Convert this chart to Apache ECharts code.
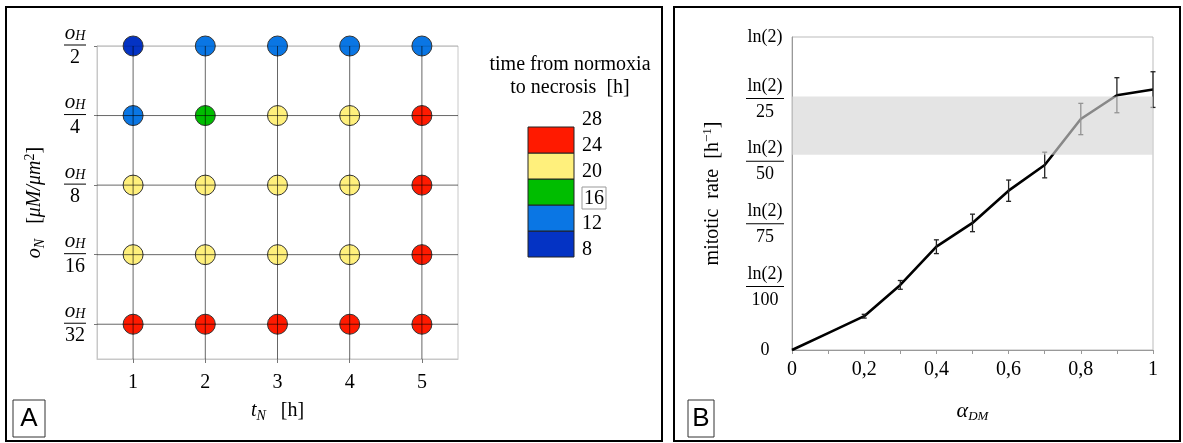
<!DOCTYPE html>
<html>
<head>
<meta charset="utf-8">
<script src="https://cdn.jsdelivr.net/npm/echarts@6/dist/echarts.min.js"></script>
<style>
html, body { margin: 0; padding: 0; background: #fff; }
#chart { width: 1183px; height: 443px; }
</style>
</head>
<body>
<div id="chart"></div>
<script>
// ---- panel A : time from normoxia to necrosis ----
const tValues = [1, 2, 3, 4, 5];             // t_N [h]
const oLevels = [1, 2, 3, 4, 5];             // row positions, bottom to top
const oDenominators = ['32', '16', '8', '4', '2'];
// rows from o_H/32 (bottom) to o_H/2 (top), columns t_N = 1..5
const necrosisRows = [
	[26, 26, 26, 26, 26],
	[22, 22, 22, 22, 26],
	[22, 22, 22, 22, 26],
	[14, 18, 22, 22, 26],
	[10, 14, 14, 14, 14]
];
const legendBreaks = [8, 12, 16, 20, 24, 28];
const legendColors = ['#0433c4', '#0a76e4', '#00bd00', '#fff07c', '#ff1a00'];

// ---- panel B : mitotic rate ----
const alphaValues = [0, 0.1, 0.2, 0.3, 0.4, 0.5, 0.6, 0.7, 0.8, 0.9, 1];
const rateLevels = [0, 0.27, 0.54, 1.04, 1.65, 2.03, 2.545, 2.955, 3.69, 4.07, 4.16];
const rateErrors = [0, 0, 0.03, 0.07, 0.11, 0.14, 0.17, 0.205, 0.25, 0.28, 0.285];
const rateTickLabels = ['0', '100', '75', '50', '25', 'ln(2)'];
const alphaTickLabels = ['0', '0,2', '0,4', '0,6', '0,8', '1'];
const bandRange = [3.12, 4.05];

const serif = 'Liberation Serif';

function colorFor(v) {
	for (let i = 0; i < legendColors.length; i++) {
		if (v >= legendBreaks[i] && v < legendBreaks[i + 1]) return legendColors[i];
	}
	return '#000';
}

const chart = echarts.init(document.getElementById('chart'));

// scatter cells
const cells = [];
necrosisRows.forEach((row, r) => {
	row.forEach((v, c) => cells.push([tValues[c], oLevels[r], v]));
});

// grid lines of panel A, drawn above the circles
const gridSeries = [];
tValues.forEach(x => {
	gridSeries.push({
		type: 'line', xAxisIndex: 0, yAxisIndex: 0, z: 4, silent: true, symbol: 'none',
		lineStyle: { color: 'rgba(0,0,0,0.6)', width: 1 },
		data: [[x, 0.5], [x, 5]]
	});
});
oLevels.forEach(y => {
	gridSeries.push({
		type: 'line', xAxisIndex: 0, yAxisIndex: 0, z: 4, silent: true, symbol: 'none',
		lineStyle: { color: y === 5 ? 'rgba(0,0,0,0.22)' : 'rgba(0,0,0,0.6)', width: 1 },
		data: [[0.5, y], [5.5, y]]
	});
});

const fracRichA = {
	o: { fontFamily: serif, fontStyle: 'italic', fontSize: 21, lineHeight: 20, color: '#000', align: 'center' },
	h: { fontFamily: serif, fontStyle: 'italic', fontSize: 14, lineHeight: 20, color: '#000', verticalAlign: 'bottom', padding: [8, 0, 0, 0], align: 'center' },
	bar: { width: 22, height: 1, lineHeight: 4, backgroundColor: '#000', align: 'center' },
	d: { fontFamily: serif, fontSize: 20, lineHeight: 22, color: '#000', align: 'center' }
};

const fracRichB = {
	n: { fontFamily: serif, fontSize: 18, lineHeight: 20, color: '#000', align: 'center' },
	bar: { width: 38, height: 1, lineHeight: 5, backgroundColor: '#000', align: 'center' },
	d: { fontFamily: serif, fontSize: 18, lineHeight: 22, color: '#000', align: 'center' },
	t: { fontFamily: serif, fontSize: 18, color: '#000', align: 'center' }
};

const option = {
	animation: false,
	backgroundColor: '#fff',
	title: {
		text: 'time from normoxia\nto necrosis  [h]',
		left: 565, top: 48, textAlign: 'center',
		textStyle: { fontFamily: serif, fontSize: 20, fontWeight: 'normal', color: '#000', lineHeight: 23 }
	},
	grid: [
		{ left: 97, top: 46, width: 361, height: 313, show: true, borderColor: '#c8c8c8', borderWidth: 1 },
		{ left: 528, top: 127, width: 46, height: 130 },
		{ left: 792, top: 37, width: 361, height: 313, show: true, borderColor: '#bbb', borderWidth: 1 }
	],
	xAxis: [
		{
			gridIndex: 0, type: 'value', min: 0.5, max: 5.5,
			name: '{i|t}{s|N}   [h]', nameLocation: 'middle', nameGap: 40,
			nameTextStyle: {
				rich: {
					i: { fontFamily: serif, fontStyle: 'italic', fontSize: 20, color: '#000' },
					s: { fontFamily: serif, fontStyle: 'italic', fontSize: 14, color: '#000', padding: [10, 0, 0, 0] }
				},
				fontFamily: serif, fontSize: 20, color: '#000'
			},
			axisLine: { lineStyle: { color: '#c8c8c8' } },
			axisTick: { show: true, customValues: tValues, length: 4, lineStyle: { color: '#777' } },
			axisLabel: { customValues: tValues, margin: 14, fontFamily: serif, fontSize: 20, color: '#000' },
			splitLine: { show: false }
		},
		{ gridIndex: 1, type: 'category', data: ['bar'], show: false },
		{
			gridIndex: 2, type: 'value', min: 0, max: 1, interval: 0.2,
			name: '{i|α}{s|DM}', nameLocation: 'middle', nameGap: 50,
			nameTextStyle: {
				rich: {
					i: { fontFamily: serif, fontStyle: 'italic', fontSize: 22, color: '#000' },
					s: { fontFamily: serif, fontStyle: 'italic', fontSize: 13, color: '#000', padding: [10, 0, 0, 0] }
				}
			},
			axisLine: { lineStyle: { color: '#999' } },
			axisTick: { show: true, length: 4, lineStyle: { color: '#999' } },
			minorTick: { show: true, splitNumber: 2, length: 4, lineStyle: { color: '#999' } },
			axisLabel: {
				margin: 10, fontFamily: serif, fontSize: 20, color: '#000',
				formatter: v => alphaTickLabels[Math.round(v / 0.2)]
			},
			splitLine: { show: false }
		}
	],
	yAxis: [
		{
			gridIndex: 0, type: 'value', min: 0.5, max: 5,
			name: '{i|o}{s|N}   [{i|μM/μm}{p|2}]', nameLocation: 'middle', nameRotate: 90, nameGap: 50,
			nameTextStyle: {
				rich: {
					i: { fontFamily: serif, fontStyle: 'italic', fontSize: 20, color: '#000' },
					s: { fontFamily: serif, fontStyle: 'italic', fontSize: 14, color: '#000', padding: [10, 0, 0, 0] },
					p: { fontFamily: serif, fontSize: 14, color: '#000', padding: [0, 0, 10, 0] }
				},
				fontFamily: serif, fontSize: 20, color: '#000'
			},
			axisLine: { lineStyle: { color: '#c8c8c8' } },
			axisTick: { show: true, customValues: oLevels, length: 3, lineStyle: { color: '#777' } },
			axisLabel: {
				customValues: oLevels, margin: 11,
				formatter: v => '{o|o}{h|H}\n{bar| }\n{d|' + oDenominators[oLevels.indexOf(v)] + '}',
				rich: fracRichA
			},
			splitLine: { show: false }
		},
		{
			gridIndex: 1, type: 'value', min: legendBreaks[0], max: legendBreaks[legendBreaks.length - 1], interval: 4,
			position: 'right',
			axisLine: { show: false }, axisTick: { show: false }, splitLine: { show: false },
			axisLabel: {
				margin: 8, padding: [0, 0, 14, 0], fontFamily: serif, fontSize: 20, color: '#000',
				formatter: v => (v === 16 ? '{box|16}' : String(v)),
				rich: { box: { fontFamily: serif, fontSize: 20, color: '#000', borderColor: '#999', borderWidth: 1, padding: [2, 2, 0, 2] } }
			}
		},
		{
			gridIndex: 2, type: 'value', min: 0, max: 5, interval: 1,
			name: '{t|mitotic  rate  [h}{p|−1}{t|]}', nameLocation: 'middle', nameRotate: 90, nameGap: 68,
			nameTextStyle: {
				rich: {
					t: { fontFamily: serif, fontSize: 20, color: '#000' },
					p: { fontFamily: serif, fontSize: 13, color: '#000', padding: [0, 0, 10, 0] }
				}
			},
			axisLine: { show: true, lineStyle: { color: '#999' } },
			axisTick: { show: false },
			splitLine: { show: false },
			axisLabel: {
				margin: 27, align: 'center',
				formatter: (v) => {
					const lab = rateTickLabels[Math.round(v)];
					if (v === 0 || v === 5) return '{t|' + lab + '}';
					return '{n|ln(2)}\n{bar| }\n{d|' + lab + '}';
				},
				rich: fracRichB
			}
		}
	],
	series: [
		{
			type: 'scatter', xAxisIndex: 0, yAxisIndex: 0, z: 2,
			symbolSize: 20,
			data: cells,
			itemStyle: {
				color: p => colorFor(p.value[2]),
				borderColor: '#333', borderWidth: 1, opacity: 1
			}
		},
		...gridSeries,
		{
			type: 'custom', xAxisIndex: 1, yAxisIndex: 1,
			data: legendColors.map((c, i) => [0, legendBreaks[i], legendBreaks[i + 1]]),
			encode: { x: 0, y: [1, 2] },
			renderItem: (params, api) => {
				const top = api.coord([api.value(0), api.value(2)]);
				const bot = api.coord([api.value(0), api.value(1)]);
				const w = api.size([1, 0])[0];
				return {
					type: 'rect',
					shape: { x: top[0] - w / 2, y: top[1], width: w, height: bot[1] - top[1] },
					style: { fill: legendColors[params.dataIndex], stroke: '#222', lineWidth: 1 }
				};
			}
		},
		{
			type: 'line', xAxisIndex: 2, yAxisIndex: 2, z: 3,
			symbol: 'none',
			lineStyle: { color: '#000', width: 2.6 },
			data: alphaValues.map((a, i) => [a, rateLevels[i]])
		},
		{
			type: 'custom', xAxisIndex: 2, yAxisIndex: 2, z: 4,
			data: alphaValues.map((a, i) => [a, rateLevels[i] - rateErrors[i], rateLevels[i] + rateErrors[i]])
				.filter((d, i) => rateErrors[i] > 0),
			encode: { x: 0, y: [1, 2] },
			renderItem: (params, api) => {
				const lo = api.coord([api.value(0), api.value(1)]);
				const hi = api.coord([api.value(0), api.value(2)]);
				const st = { stroke: '#222', lineWidth: 1.3 };
				return {
					type: 'group',
					children: [
						{ type: 'line', shape: { x1: lo[0], y1: lo[1], x2: hi[0], y2: hi[1] }, style: st },
						{ type: 'line', shape: { x1: lo[0] - 2.5, y1: lo[1], x2: lo[0] + 2.5, y2: lo[1] }, style: st },
						{ type: 'line', shape: { x1: hi[0] - 2.5, y1: hi[1], x2: hi[0] + 2.5, y2: hi[1] }, style: st }
					]
				};
			}
		},
		{
			type: 'custom', xAxisIndex: 2, yAxisIndex: 2, z: 10, silent: true,
			data: [[alphaValues[0], bandRange[0], bandRange[1]]],
			encode: { x: 0, y: [1, 2] },
			renderItem: (params, api) => {
				const a = api.coord([alphaValues[0], api.value(2)]);
				const b = api.coord([alphaValues[alphaValues.length - 1], api.value(1)]);
				return {
					type: 'rect',
					shape: { x: a[0], y: a[1], width: b[0] - a[0], height: b[1] - a[1] },
					style: { fill: 'rgba(212,212,212,0.64)' }
				};
			}
		}
	],
	graphic: [
		{ type: 'rect', shape: { x: 6, y: 7, width: 656, height: 434 }, style: { fill: 'none', stroke: '#000', lineWidth: 2 } },
		{ type: 'rect', shape: { x: 674, y: 7, width: 506, height: 434 }, style: { fill: 'none', stroke: '#000', lineWidth: 2 } },
		{ type: 'rect', shape: { x: 13, y: 400, width: 32, height: 37 }, style: { fill: 'none', stroke: '#333', lineWidth: 1 } },
		{ type: 'rect', shape: { x: 688, y: 400, width: 26, height: 37 }, style: { fill: 'none', stroke: '#333', lineWidth: 1 } },
		{ type: 'text', x: 29, y: 419, style: { text: 'A', fontFamily: 'Liberation Sans', fontSize: 26, fill: '#000', align: 'center', verticalAlign: 'middle' } },
		{ type: 'text', x: 701, y: 419, style: { text: 'B', fontFamily: 'Liberation Sans', fontSize: 26, fill: '#000', align: 'center', verticalAlign: 'middle' } }
	]
};

chart.setOption(option);
</script>
</body>
</html>
